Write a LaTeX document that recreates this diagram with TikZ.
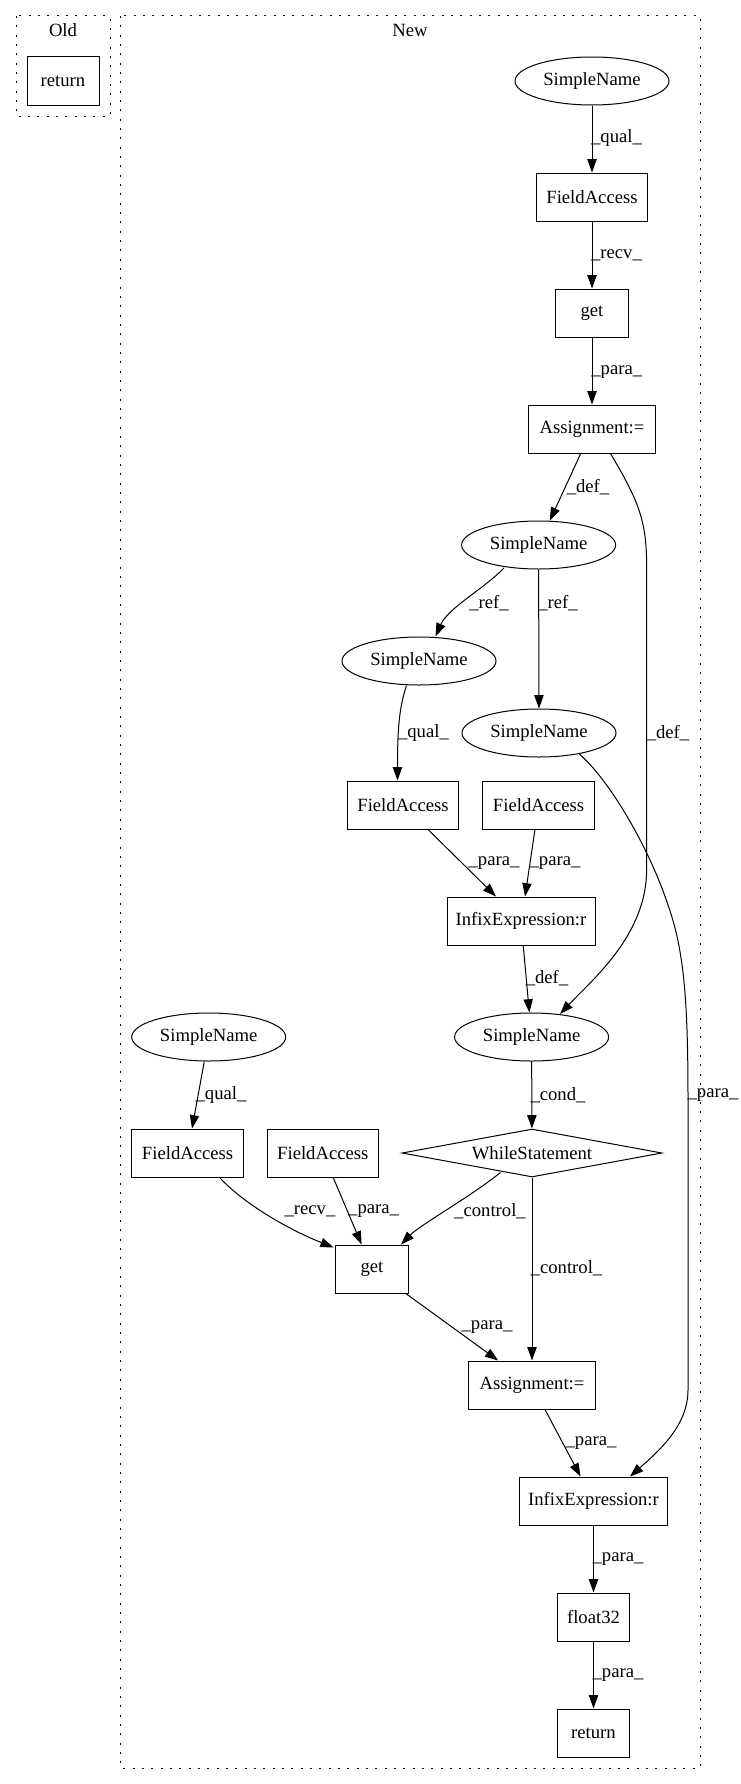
\documentclass[tikz,border=0pt]{standalone}
\usepackage{fontspec}
\setmainfont{Liberation Serif}
\usetikzlibrary{shapes.geometric,arrows.meta,calc}
\begin{document}
\begin{tikzpicture}[x=0.75pt,y=-0.75pt,
  every node/.style={font=\fontsize{14pt}{16pt}\selectfont},
  box/.style={draw,line width=0.75pt,rectangle,inner sep=0pt,minimum height=36pt},
  ell/.style={draw,line width=0.75pt,ellipse,inner sep=0pt,minimum width=115.5pt,minimum height=36pt},
  dia/.style={draw,line width=0.75pt,diamond,aspect=5.4,inner sep=0pt,minimum width=195pt,minimum height=36pt},
  edge/.style={line width=0.75pt,-{Triangle[length=10pt,width=7pt]}},
  lab/.style={inner sep=0pt},
  cluster/.style={draw,line width=0.75pt,dash pattern=on 1.5pt off 5.5pt}]
\useasboundingbox (0,0) rectangle (740,1784);
% clusters
\draw[cluster] (16,16) rectangle (110,116);
\node[lab] (oldlab) at (63,30) {Old};
\draw[cluster] (120.5,16) rectangle (700,1768);
\node[lab] (newlab) at (410,30) {New};
% nodes
\node[box,minimum width=54pt] (oldret) at (63,81) {return};
\node[ell] (sn1) at (592,81) {SimpleName};
\node[box,minimum width=83.6pt] (fa1) at (592,197) {FieldAccess};
\node[box,minimum width=54.4pt] (get1) at (592,313) {get};
\node[box,minimum width=95pt] (as1) at (592,429) {Assignment:=};
\node[ell] (sn2) at (538.6,545) {SimpleName};
\node[ell] (sn3) at (419,661) {SimpleName};
\node[ell] (sn4) at (539,733) {SimpleName};
\node[box,minimum width=83.6pt] (fa2) at (403,805) {FieldAccess};
\node[box,minimum width=83.6pt] (fa3) at (538.6,805) {FieldAccess};
\node[box,minimum width=111pt] (inf1) at (521,921) {InfixExpression:r};
\node[ell] (sn5) at (531.6,1037) {SimpleName};
\node[ell] (sn6) at (208.7,1037) {SimpleName};
\node[box,minimum width=83.6pt] (fa4) at (187.6,1153) {FieldAccess};
\node[box,minimum width=83.6pt] (fa5) at (322.8,1153) {FieldAccess};
\node[dia] (wh) at (532,1153) {WhileStatement};
\node[box,minimum width=54.4pt] (get2) at (372,1269) {get};
\node[box,minimum width=95pt] (as2) at (532,1385) {Assignment:=};
\node[box,minimum width=111pt] (inf2) at (593.5,1501) {InfixExpression:r};
\node[box,minimum width=54.4pt] (flt) at (593.5,1617) {float32};
\node[box,minimum width=54.4pt] (ret) at (593.5,1733) {return};
% edges
\draw[edge] (sn1) -- (fa1);
\draw[edge] (fa1) -- (get1);
\draw[edge] (get1) -- (as1);
\draw[edge] (as1) -- (sn2);
\draw[edge] ($(as1.south)+(18.5,0)$) .. controls (638,500) and (646.6,520) .. (646.6,565)
   -- (646.6,870) .. controls (646.6,935) and (592,980) .. ($(sn5.north)+(28.4,1.5)$);
\draw[edge] ($(sn2.south)+(-34.6,-1.5)$) .. controls (485,588) and (448,608) .. ($(sn3.north)+(16.5,0)$);
\draw[edge] (sn2.south) -- (sn4.north);
\draw[edge] ($(sn3.south)+(-12.5,0)$) .. controls (399,708) and (397.5,730) .. ($(fa2.north)+(-5.5,0)$);
\draw[edge] ($(sn4.south)+(39.7,-4)$) .. controls (610,780) and (650,850) .. (668,905)
   .. controls (684,950) and (688,1000) .. (688,1100) -- (688,1390)
   .. controls (688,1425) and (660,1450) .. ($(inf2.north)+(36.5,0)$);
\draw[edge] ($(fa2.south)+(25,0)$) -- ($(inf1.north)+(-25,0)$);
\draw[edge] ($(fa3.south)+(-3.6,0)$) -- ($(inf1.north)+(4,0)$);
\draw[edge] (inf1) -- (sn5);
\draw[edge] (sn6) -- (fa4);
\draw[edge] (sn5) -- (wh);
\draw[edge] ($(fa4.south)+(32,0)$) .. controls (242,1202) and (285,1228) .. ($(get2.north west)+(-1.6,3)$);
\draw[edge] (fa5) -- (get2);
\draw[edge] ($(wh.south)+(-31.5,-5)$) .. controls (470,1197) and (420,1225) .. ($(get2.north)+(29,0)$);
\draw[edge] (wh.south) -- (as2.north);
\draw[edge] (get2) -- (as2);
\draw[edge] (as2) -- (inf2);
\draw[edge] (inf2) -- (flt);
\draw[edge] (flt) -- (ret);
% labels
\node[lab] (l1) at (616.5,138) {\_qual\_};
\node[lab] (l2) at (616.5,255.7) {\_recv\_};
\node[lab] (l3) at (616.8,371.7) {\_para\_};
\node[lab] (l4) at (588,486.7) {\_def\_};
\node[lab] (l5) at (489,603.3) {\_ref\_};
\node[lab] (l6) at (558,603.3) {\_ref\_};
\node[lab] (l7) at (423.4,733.3) {\_qual\_};
\node[lab] (l8) at (668,733.3) {\_def\_};
\node[lab] (l9) at (494,863.3) {\_para\_};
\node[lab] (l10) at (555,863.3) {\_para\_};
\node[lab] (l11) at (547,978.3) {\_def\_};
\node[lab] (l12) at (221,1095) {\_qual\_};
\node[lab] (l13) at (558,1095) {\_cond\_};
\node[lab] (l14) at (713,1095) {\_para\_};
\node[lab] (l15) at (310,1211) {\_recv\_};
\node[lab] (l16) at (373.6,1211) {\_para\_};
\node[lab] (l17) at (490,1211) {\_control\_};
\node[lab] (l18) at (566.5,1268.3) {\_control\_};
\node[lab] (l19) at (487,1327) {\_para\_};
\node[lab] (l20) at (591,1443.3) {\_para\_};
\node[lab] (l21) at (618,1559) {\_para\_};
\node[lab] (l22) at (618,1675) {\_para\_};
\end{tikzpicture}
\end{document}
